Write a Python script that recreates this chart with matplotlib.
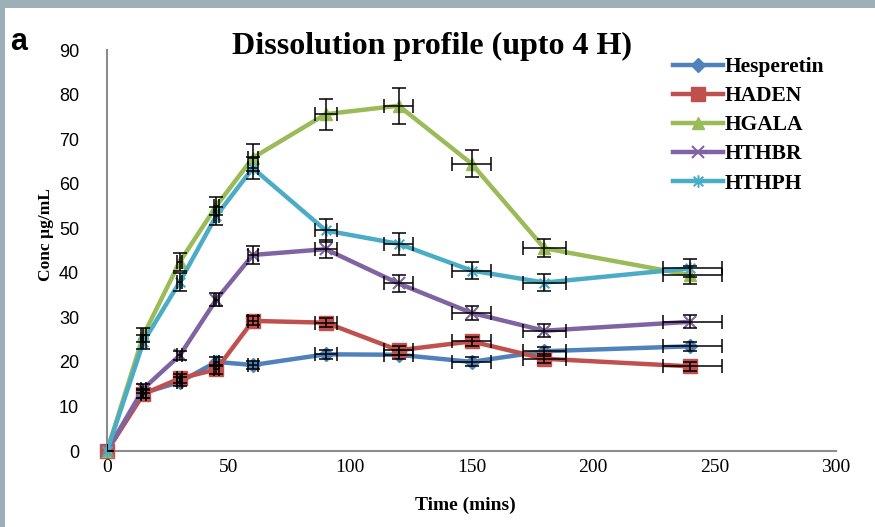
import matplotlib
matplotlib.use("Agg")
import matplotlib.pyplot as plt
from matplotlib.path import Path
from matplotlib.patches import Rectangle

# 数据：时间点与各样品浓度（μg/mL）
time_min = [0, 15, 30, 45, 60, 90, 120, 150, 180, 240]
hesperetin = [0, 13, 15.5, 20, 19.3, 21.7, 21.6, 20, 22.4, 23.5]
haden = [0, 12.8, 16.3, 18.3, 29.2, 28.8, 22.6, 24.6, 20.7, 19]
hgala = [0, 26, 42.5, 55, 65.8, 75.6, 77.5, 64.5, 45.5, 39.5]
hthbr = [0, 14, 21.5, 34, 44, 45.3, 37.6, 31, 27, 29]
hthph = [0, 24.5, 38, 52.8, 63.5, 49.5, 46.5, 40.5, 37.8, 41]

# 误差（y 方向按样品，x 方向按时间）
err_hesperetin = [0, 1, 1, 1, 1, 1, 1, 1, 1, 1]
err_haden = [0, 1, 1, 1, 1, 1, 1, 1, 1, 1]
err_hgala = [0, 1.5, 2, 2, 3, 3.5, 4, 3, 2, 2]
err_hthbr = [0, 1, 1, 1.5, 2, 2, 2, 1.5, 1.5, 1.5]
err_hthph = [0, 1.5, 2, 2, 2.5, 2.5, 2.5, 2, 2, 2]
xerr_lo = [0, 1, 1, 1, 2, 4.5, 6, 8, 9, 11]
xerr_hi = [0, 1, 1, 1, 2, 4.5, 6, 8, 9, 13]

labels = ["Hesperetin", "HADEN", "HGALA", "HTHBR", "HTHPH"]
colors = ["#4F81BD", "#C0504D", "#9BBB59", "#8064A2", "#4BACC6"]

star = Path([(-1, -1), (1, 1), (-1, 1), (1, -1), (0, -1.3), (0, 1.3)],
            [Path.MOVETO, Path.LINETO, Path.MOVETO, Path.LINETO, Path.MOVETO, Path.LINETO])
markers = [("D", 7, 1), ("s", 10, 1), ("^", 9, 1), ("x", 9, 1.5), (star, 9, 1.5)]

serif = "Liberation Serif"

fig = plt.figure(figsize=(8.75, 5.27), dpi=100, facecolor="#9DB0B9")
# 白色画布，上方与左侧留出灰蓝边框
fig.patches.append(Rectangle((5 / 875, 0), 1, 1 - 8 / 527, transform=fig.transFigure,
                             facecolor="white", edgecolor="none", zorder=-10))

ax = fig.add_axes([107 / 875, 76 / 527, 729 / 875, 401 / 527])
ax.set_facecolor("none")

series = [hesperetin, haden, hgala, hthbr, hthph]
yerrs = [err_hesperetin, err_haden, err_hgala, err_hthbr, err_hthph]
for ys, ye, lab, c, (m, ms, mew) in zip(series, yerrs, labels, colors, markers):
    ax.plot(time_min, ys, color=c, lw=3.2, marker=m, ms=ms, mec=c, mfc=c, mew=mew,
            label=lab, clip_on=False, zorder=3)
    ax.errorbar(time_min, ys, yerr=ye, xerr=[xerr_lo, xerr_hi], fmt="none",
                ecolor="black", elinewidth=1.1, capsize=5, capthick=1.1, zorder=4)

ax.set_xlim(0, 300)
ax.set_ylim(0, 90)
ax.set_xticks(range(0, 301, 50))
ax.set_yticks(range(0, 91, 10))
ax.tick_params(axis="x", length=0, pad=6)
ax.tick_params(axis="y", length=0, pad=20)
for t in ax.get_xticklabels():
    t.set_fontfamily(serif)
    t.set_fontsize(14)
for t in ax.get_yticklabels():
    t.set_fontfamily("Liberation Sans")
    t.set_fontsize(13)
for s in ["top", "right"]:
    ax.spines[s].set_visible(False)
for s in ["left", "bottom"]:
    ax.spines[s].set_color("#8C8C8C")
    ax.spines[s].set_linewidth(1.5)

fig.text(465 / 875, 1 - 505 / 527, "Time (mins)", ha="center", va="center",
         fontfamily=serif, fontweight="bold", fontsize=14)
fig.text(46 / 875, 1 - 235 / 527, "Conc µg/mL", rotation=90, ha="center", va="center",
         fontfamily=serif, fontweight="bold", fontsize=12.5)
fig.text(432 / 875, 1 - 46 / 527, "Dissolution profile (upto 4 H)", ha="center", va="center",
         fontfamily=serif, fontweight="bold", fontsize=23)
fig.text(10 / 875, 1 - 42 / 527, "a", ha="left", va="center",
         fontfamily="Liberation Sans", fontweight="bold", fontsize=22)

leg = fig.legend(loc="upper left", bbox_to_anchor=(673 / 875, 1 - 57 / 527), frameon=False,
                 prop={"family": serif, "weight": "bold", "size": 15.5}, handlelength=2.3,
                 handletextpad=0.1, labelspacing=0.42, borderaxespad=0, borderpad=0)

fig.savefig("out.png", dpi=100, facecolor=fig.get_facecolor())
